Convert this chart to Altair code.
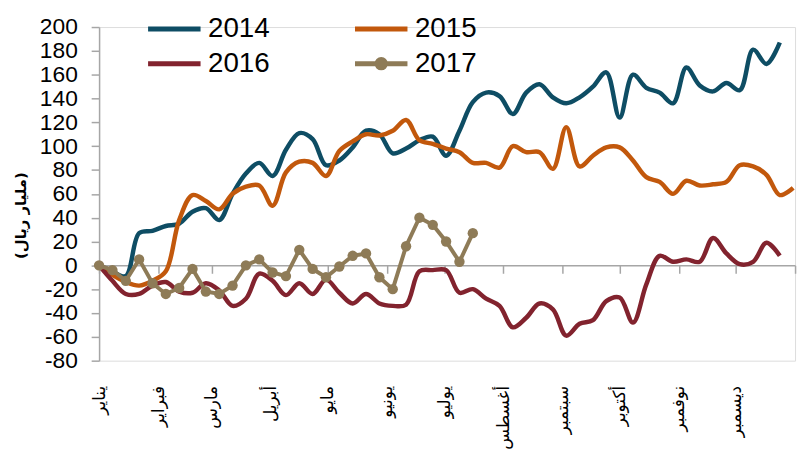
import json
import pandas as pd
import altair as alt

# ---------------- data ----------------
months = ["يناير", "فبراير", "مارس", "أبريل", "مايو", "يونيو",
          "يوليو", "أغسطس", "سبتمبر", "أكتوبر", "نوفمبر", "ديسمبر"]
years = ["2014", "2015", "2016", "2017"]
colors = ["#0E4D64", "#C2580C", "#82232E", "#8E7B57"]

v2014 = [0, -5, -9, 27, 29, 33, 35, 45, 48, 38, 60, 77, 86, 75, 97, 111, 106, 84, 88, 99,
         113, 110, 94, 98, 105, 108, 92, 113, 137, 145, 142, 127, 145, 152, 141, 136, 141, 150, 162, 124,
         160, 149, 145, 136, 166, 151, 146, 153, 147, 181, 169, 187]
v2015 = [0, -8, -14, -17, -13, -5, 38, 59, 54, 47, 60, 66, 67, 50, 78, 87, 86, 75, 96, 104,
         110, 109, 113, 122, 105, 102, 98, 95, 86, 86, 82, 100, 95, 95, 81, 116, 83, 92, 99, 99,
         88, 74, 70, 60, 71, 67, 68, 70, 84, 83, 76, 59, 65]
v2016 = [0, -13, -24, -24, -17, -14, -22, -23, -15, -21, -34, -28, -7, -13, -25, -15, -24, -12, -23, -32,
         -24, -32, -34, -33, -5, -4, -4, -23, -20, -28, -34, -52, -44, -32, -37, -59, -49, -46, -30, -27,
         -48, -16, 8, 3, 5, 3, 23, 10, 1, 3, 19, 8]
v2017 = [0, -4, -13, 5, -15, -24, -19, -3, -22, -24, -17, 0, 5, -6, -9, 13, -3, -10, -1, 8,
         10, -10, -20, 16, 40, 34, 20, 3, 27]

series = {"2014": v2014, "2015": v2015, "2016": v2016, "2017": v2017}

start = pd.Timestamp("2014-01-01")
rows = []
for yr, vals in series.items():
    for i, v in enumerate(vals):
        rows.append({"date": (start + pd.Timedelta(days=7 * i)).strftime("%Y-%m-%d"),
                     "year": yr, "value": v})
df = pd.DataFrame(rows)

# ---------------- layout ----------------
W, H = 703, 337
YMIN, YMAX = -80, 200
zero_offset = H * (YMAX - 0) / (YMAX - YMIN) - H
GREY = "#a6a6a6"

dom = [alt.DateTime(year=2014, month=1, date=1, utc=True),
       alt.DateTime(year=2015, month=1, date=1, utc=True)]
tick_vals = [alt.DateTime(year=2014, month=m, date=1, utc=True) for m in range(1, 13)] + [dom[1]]
label_expr = ("utcyear(datum.value) > 2014 ? '' : "
              + json.dumps(months, ensure_ascii=False) + "[utcmonth(datum.value)]")

xscale = alt.Scale(type="utc", domain=dom)

axis_labels = alt.Axis(values=tick_vals, labelExpr=label_expr, labelAngle=270,
                       labelFont="DejaVu Sans", labelFontSize=17, labelColor="black",
                       labelPadding=25, domain=False, ticks=False, tickSize=0, grid=False,
                       title=None, labelOverlap=False, labelFlush=False, labelBound=False,
                       orient="bottom")
axis_zero = alt.Axis(values=tick_vals, labels=False, domain=True, domainColor=GREY,
                     domainWidth=1.5, ticks=True, tickSize=8, tickColor=GREY, tickWidth=1.5,
                     grid=False, title=None, offset=zero_offset, orient="bottom")

yaxis = alt.Axis(values=list(range(YMIN, YMAX + 1, 20)), labelExpr="'' + datum.value",
                 title="(مليار ريال)", titleFont="DejaVu Sans", titleFontWeight="bold",
                 titleFontSize=15, titleColor="black", titleAngle=270, titleX=-79, titleY=190,
                 titleAlign="center", titleBaseline="middle",
                 labelFont="Liberation Sans", labelFontSize=23, labelColor="black",
                 labelPadding=14, labelOverlap=False, labelFlush=False,
                 tickSize=8, tickColor=GREY, tickWidth=1.5, domainColor=GREY, domainWidth=1.5,
                 grid=False)
yenc = alt.Y("value:Q", scale=alt.Scale(domain=[YMIN, YMAX], nice=False, zero=False), axis=yaxis)

circle_path = "M-1,0L1,0M-0.16,0A0.16,0.16,0,1,0,0.16,0A0.16,0.16,0,1,0,-0.16,0Z"
legend = alt.Legend(
    title=None, orient="none", legendX=47, legendY=-12, columns=2, columnPadding=83,
    rowPadding=7, direction="horizontal", clipHeight=28,
    symbolType={"expr": "datum.label === '2017' ? '" + circle_path + "' : 'stroke'"},
    symbolFillColor={"expr": "datum.label === '2017' ? '" + colors[3] + "' : 'transparent'"},
    symbolSize=2809, symbolStrokeWidth=5,
    labelFont="Liberation Sans", labelFontSize=28, labelColor="black", labelOffset=5,
    padding=0,
)
cenc = alt.Color("year:N", scale=alt.Scale(domain=years, range=colors), legend=legend)

base = alt.Chart(df)

lines = base.transform_filter("datum.year != '2017'").mark_line(
    interpolate="catmull-rom", strokeWidth=4.5
).encode(x=alt.X("date:T", scale=xscale, axis=axis_labels), y=yenc, color=cenc)

line17 = base.transform_filter("datum.year == '2017'").mark_line(
    strokeWidth=4
).encode(x=alt.X("date:T", scale=xscale, axis=None), y=yenc, color=cenc)

pts17 = base.transform_filter("datum.year == '2017'").mark_point(
    filled=True, size=110, opacity=1
).encode(x=alt.X("date:T", scale=xscale, axis=axis_zero), y=yenc, color=cenc)

chart = alt.layer(lines, line17, pts17).resolve_axis(x="independent").properties(
    width=W, height=H, autosize="none",
    padding={"left": 92, "top": 17, "right": 5, "bottom": 88},
    background="white",
).configure_view(stroke=None).configure(font="Liberation Sans")

chart.save("out.html", embed_options={"renderer": "svg", "actions": False})
